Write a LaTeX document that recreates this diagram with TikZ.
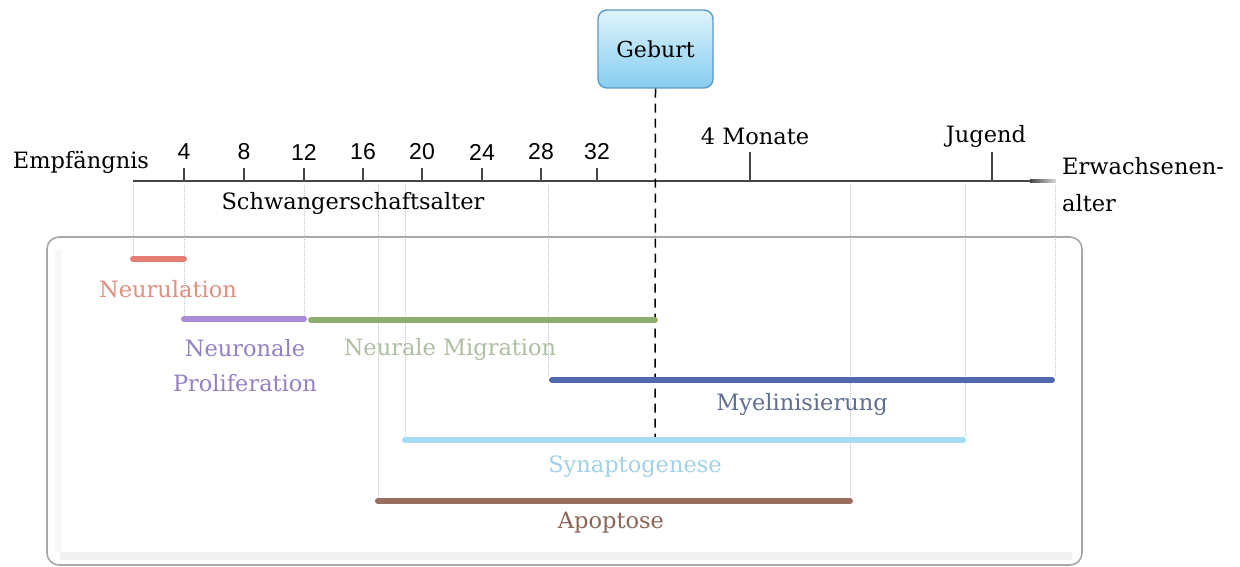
\documentclass[tikz,border=0pt]{standalone}
\usepackage{fontspec}
\setmainfont{DejaVu Serif}
\setsansfont{Liberation Sans}
\usetikzlibrary{calc}
\definecolor{axisc}{HTML}{454545}
\definecolor{guide}{HTML}{C4C4C4}
\definecolor{neurc}{HTML}{E47E72}
\definecolor{neurt}{HTML}{E0907F}
\definecolor{prolc}{HTML}{A98BD8}
\definecolor{prolt}{HTML}{9580C4}
\definecolor{migc}{HTML}{8DAE6E}
\definecolor{migt}{HTML}{AFBFA2}
\definecolor{myec}{HTML}{5068AE}
\definecolor{myet}{HTML}{5E6F92}
\definecolor{sync}{HTML}{A6DDF4}
\definecolor{synt}{HTML}{A2D2EA}
\definecolor{apoc}{HTML}{9A6E5E}
\definecolor{apot}{HTML}{8A6556}
\definecolor{boxtop}{HTML}{DFF3FC}
\definecolor{boxbot}{HTML}{86CDF0}
\definecolor{boxdraw}{HTML}{5C9CC4}
\definecolor{panel}{HTML}{A8A8A8}
\tikzset{
  lbl/.style={font=\fontsize{22.5}{26}\selectfont, inner sep=0pt},
  num/.style={font=\sffamily\fontsize{23}{26}\selectfont, inner sep=0pt},
  bar/.style={line width=6pt, line cap=round},
  guideline/.style={guide, densely dotted, line width=1pt},
  tickmark/.style={axisc, line width=1.6pt},
  bigtick/.style={axisc, line width=2.6pt},
}
\begin{document}
\begin{tikzpicture}[x=1pt,y=-1pt]
\useasboundingbox (0,0) rectangle (1240,567);
% panel
\draw[panel, line width=1.6pt, fill=white, rounded corners=12pt] (47,237) rectangle (1082,565);
\fill[black!6] (60,552) rectangle (1072,560);
\fill[black!3] (55,250) rectangle (62,552);
% guides
\coordinate (g0t) at (133,185); \coordinate (g0b) at (133,256);
\coordinate (g4t) at (184,185); \coordinate (g4b) at (184,316);
\coordinate (g12t) at (304,185); \coordinate (g12b) at (304,316);
\coordinate (g17t) at (378,185); \coordinate (g17b) at (378,498);
\coordinate (g19t) at (405,185); \coordinate (g19b) at (405,437);
\coordinate (g28t) at (548,185); \coordinate (g28b) at (548,377);
\coordinate (gat) at (850,185); \coordinate (gab) at (850,498);
\coordinate (gbt) at (965,185); \coordinate (gbb) at (965,437);
\coordinate (gct) at (1055,185); \coordinate (gcb) at (1055,377);
\foreach \n in {0,4,12,17,19,28,a,b,c} \draw[guideline] (g\n t) -- (g\n b);
% axis
\coordinate (ax0) at (133,181);
\coordinate (ax1) at (1030,181);
\coordinate (ax2) at (1056,181);
\draw[axisc, line width=2.6pt] (ax0) -- (ax1);
\shade[left color=axisc, right color=axisc!20] ($(ax1)+(0,-1.3)$) rectangle ($(ax2)+(0,1.3)$);
\foreach \w/\x in {4/184,8/244,12/304,16/363,20/422,24/482,28/541,32/597}{
  \coordinate (t\w) at (\x,181);
  \draw[tickmark] (t\w) -- ++(0,-13);
  \node[num] (n\w) at (\x,152) {\w};
}
\node[lbl] (emp) at (81,162) {Empfängnis};
\node[lbl] (schw) at (353,203) {Schwangerschaftsalter};
\coordinate (m4) at (750,181);
\draw[bigtick] (m4) -- ++(0,-29);
\node[lbl] (mon) at (755,136) {4 Monate};
\coordinate (jug) at (992,181);
\draw[bigtick] (jug) -- ++(0,-29);
\node[lbl] (jugl) at (986,136) {Jugend};
\node[lbl, anchor=west] (erw1) at (1062,166) {Erwachsenen-};
\node[lbl, anchor=west] (erw2) at (1062,203) {alter};
% birth
\node[draw=boxdraw, line width=1.4pt, rounded corners=9pt, top color=boxtop, bottom color=boxbot,
      minimum width=115pt, minimum height=78pt, lbl, font=\fontsize{22}{24}\selectfont] (geb) at (655.5,49) {Geburt};
\coordinate (bend) at (655,441);
\draw[black, line width=1.5pt, dash pattern=on 9pt off 6pt] (geb.south) -- (bend);
% bars
\draw[bar, neurc] (133,259) coordinate (b1a) -- (184,259) coordinate (b1b);
\node[lbl, text=neurt] (l1) at (168,289) {Neurulation};
\draw[bar, prolc] (184,319) coordinate (b2a) -- (304,319) coordinate (b2b);
\node[lbl, text=prolt, align=center, font=\fontsize{22.5}{35}\selectfont] (l2) at (245,366) {Neuronale\\Proliferation};
\draw[bar, migc] (311,320) coordinate (b3a) -- (655,320) coordinate (b3b);
\node[lbl, text=migt] (l3) at (450,349) {Neurale Migration};
\draw[bar, myec] (552,380) coordinate (b4a) -- (1052,380) coordinate (b4b);
\node[lbl, text=myet] (l4) at (802,404) {Myelinisierung};
\draw[bar, sync] (405,440) coordinate (b5a) -- (963,440) coordinate (b5b);
\node[lbl, text=synt] (l5) at (635,467) {Synaptogenese};
\draw[bar, apoc] (378,501) coordinate (b6a) -- (850,501) coordinate (b6b);
\node[lbl, text=apot] (l6) at (611,523) {Apoptose};
\end{tikzpicture}
\end{document}
